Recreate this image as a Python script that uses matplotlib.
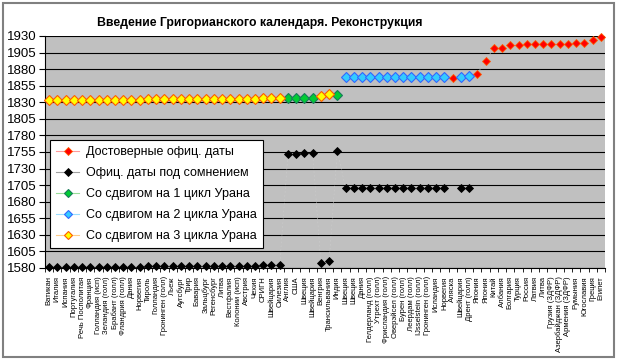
import matplotlib
matplotlib.use('Agg')
import matplotlib.pyplot as plt
import numpy as np
from matplotlib.lines import Line2D
from matplotlib.patches import Rectangle

plt.rcParams['font.family'] = ['Liberation Sans', 'DejaVu Sans']

N = np.nan

categories = [
    'Ватикан', 'Италия', 'Испания', 'Португалия', 'Речь Посполитая', 'Франция',
    'Голландия (исп)', 'Зеландия (голл)', 'Брабант (голл)', 'Фландрия (голл)', 'Дания',
    'Норвегия', 'Тироль', 'Голландия', 'Гронинген (голл)', 'Льеж', 'Аугсбург', 'Трир',
    'Бавария', 'Зальцбург', 'Регенсбург', 'Литва', 'Вестфалия', 'Колонии (исп)',
    'Австрия', 'Чехия', 'СРИГН', 'Швейцария', 'Силезия', 'Англия', 'США', 'Швеция',
    'Швейцария', 'Венгрия', 'Трансильвания', 'Индия', 'Швеция', 'Швеция', 'Дания',
    'Гелдерланд (голл)', 'Утрехт (голл)', 'Фрисландия (голл)', 'Оверэйсел (голл)',
    'Бурен (голл)', 'Леердам (голл)', 'IJsselstein (голл)', 'Гронинген (голл)',
    'Исландия', 'Норвегия', 'Аляска', 'Швейцария', 'Дрент (голл)', 'Япония', 'Япония',
    'Китай', 'Албания', 'Болгария', 'Турция', 'Россия', 'Латвия', 'Литва',
    'Грузия (ЗДФР)', 'Азербайджан (ЗДФР)', 'Армения (ЗДФР)', 'Румыния', 'Югославия',
    'Греция', 'Египет',
]

# Достоверные офиц. даты
reliable = [
    N, N, N, N, N, N, N, N, N, N, N, N,
    N, N, N, N, N, N, N, N, N, N, N, N, N, N,
    N, N, N,
    N, N, N, N,
    N, N,
    N,
    N, N, N, N, N, N, N, N, N, N, N, N, N,
    1867,
    N, N,
    1873, 1893, 1912, 1912, 1916, 1917, 1918, 1918, 1918, 1918, 1918, 1918,
    1919, 1919, 1924, 1928,
]

# Офиц. даты под сомнением
doubtful = [
    1582, 1582, 1582, 1582, 1582, 1582, 1582, 1582, 1582, 1582, 1582, 1582,
    1583, 1583, 1583, 1583, 1583, 1583, 1583, 1583, 1583, 1583, 1583, 1583, 1583, 1583,
    1584, 1584, 1584,
    1752, 1752, 1753, 1753,
    1587, 1590,
    1757,
    1700, 1700, 1700, 1700, 1700, 1700, 1700, 1700, 1700, 1700, 1700, 1700, 1700,
    N,
    1700, 1701,
    N, N, N, N, N, N, N, N, N, N, N, N, N, N, N, N,
]

# Со сдвигом на 1 цикл Урана
shift1 = [
    N, N, N, N, N, N, N, N, N, N, N, N,
    N, N, N, N, N, N, N, N, N, N, N, N, N, N,
    N, N, N,
    1836, 1836, 1837, 1837,
    N, N,
    1841,
    N, N, N, N, N, N, N, N, N, N, N, N, N,
    N,
    N, N,
    N, N, N, N, N, N, N, N, N, N, N, N, N, N, N, N,
]

# Со сдвигом на 2 цикла Урана
shift2 = [
    N, N, N, N, N, N, N, N, N, N, N, N,
    N, N, N, N, N, N, N, N, N, N, N, N, N, N,
    N, N, N,
    N, N, N, N,
    N, N,
    N,
    1868, 1868, 1868, 1868, 1868, 1868, 1868, 1868, 1868, 1868, 1868, 1868, 1868,
    N,
    1868, 1869,
    N, N, N, N, N, N, N, N, N, N, N, N, N, N, N, N,
]

# Со сдвигом на 3 цикла Урана
shift3 = [
    1834, 1834, 1834, 1834, 1834, 1834, 1834, 1834, 1834, 1834, 1834, 1834,
    1835, 1835, 1835, 1835, 1835, 1835, 1835, 1835, 1835, 1835, 1835, 1835, 1835, 1835,
    1836, 1836, 1836,
    N, N, N, N,
    1839, 1842,
    N,
    N, N, N, N, N, N, N, N, N, N, N, N, N,
    N,
    N, N,
    N, N, N, N, N, N, N, N, N, N, N, N, N, N, N, N,
]

series_labels = ['Достоверные офиц. даты', 'Офиц. даты под сомнением',
                 'Со сдвигом на 1 цикл Урана', 'Со сдвигом на 2 цикла Урана',
                 'Со сдвигом на 3 цикла Урана']

y_ticks = [1580, 1605, 1630, 1655, 1680, 1705, 1730, 1755, 1780, 1805, 1830,
           1855, 1880, 1905, 1930]

title = 'Введение Григорианского календаря. Реконструкция'

W, H = 620, 364
fig = plt.figure(figsize=(W / 100, H / 100), dpi=100)
fig.patch.set_facecolor('white')

# chart border
fig.add_artist(Rectangle((3 / W, 7 / H), 611 / W, 354 / H, transform=fig.transFigure,
                         fill=False, ec='#808080', lw=1.5))

ax = fig.add_axes([45 / W, (H - 268) / H, 560 / W, 232 / H])
ax.set_facecolor('#c0c0c0')

x = np.arange(len(categories))

styles = [
    dict(mfc='#ff0000', mec='#ff5a00', ms=4.5, mew=0.6, lc='#ff9a9a'),
    dict(mfc='#000000', mec='#000000', ms=4.5, mew=0.6, lc='#a0a0a0'),
    dict(mfc='#00cc33', mec='#1a7a5a', ms=5.0, mew=0.8, lc='#99dd99'),
    dict(mfc='#33ccff', mec='#3366ff', ms=5.0, mew=0.8, lc='#99ddff'),
    dict(mfc='#ffff00', mec='#ff5a00', ms=5.0, mew=0.8, lc='#ffcc88'),
]
data = [reliable, doubtful, shift1, shift2, shift3]

handles = []
for vals, st, lab in zip(data, styles, series_labels):
    ax.plot(x, vals, ls=(0, (3, 4)), lw=0.4, color='#cccccc', marker='D',
            ms=st['ms'], mfc=st['mfc'], mec=st['mec'], mew=st['mew'], zorder=3,
            clip_on=False)
    handles.append(Line2D([0], [0], color=st['lc'], lw=0.8, marker='D',
                          ms=st['ms'] - 0.5, mfc=st['mfc'], mec=st['mec'],
                          mew=st['mew'], label=lab))

ax.set_xlim(-0.5, len(categories) - 0.5)
ax.set_ylim(1580, 1930)
ax.set_yticks(y_ticks)
ax.set_yticklabels([str(v) for v in y_ticks], fontsize=9.5)
ax.yaxis.grid(True, color='black', lw=0.8, zorder=1)
ax.set_axisbelow(True)

ax.set_xticks(x)
ax.set_xticklabels(categories, rotation=90, fontsize=5.5)
ax.set_xticks(np.arange(-0.5, len(categories), 1.0), minor=True)
ax.tick_params(axis='x', which='major', length=0, pad=6)
ax.tick_params(axis='x', which='minor', length=3, width=0.6, direction='out')
ax.tick_params(axis='y', length=4, width=0.8, direction='out', pad=2)

for s in ['top', 'right']:
    ax.spines[s].set_visible(False)
for s in ['left', 'bottom']:
    ax.spines[s].set_color('black')
    ax.spines[s].set_linewidth(0.8)

leg = ax.legend(handles=handles, loc='upper left', bbox_to_anchor=(0.009, 0.552),
                borderaxespad=0, fontsize=9, frameon=True, fancybox=False,
                handlelength=1.8, handletextpad=0.6, labelspacing=0.72,
                borderpad=0.5)
leg.get_frame().set_edgecolor('black')
leg.get_frame().set_linewidth(0.8)
leg.get_frame().set_facecolor('white')
leg.get_frame().set_alpha(1)
leg.set_zorder(10)

fig.text(260 / W, 1 - 23 / H, title, ha='center', va='center', fontsize=8.8,
         fontweight='bold')

fig.savefig('out.png', dpi=100)
